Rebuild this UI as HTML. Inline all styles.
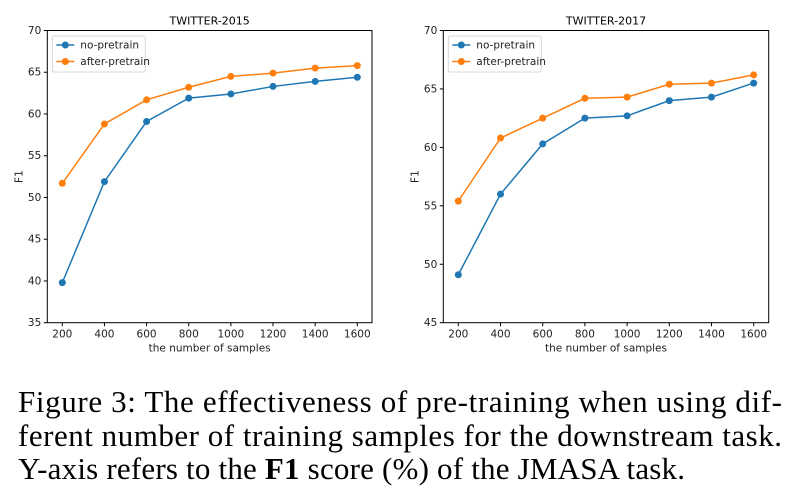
<!DOCTYPE html>
<html><head><meta charset="utf-8"><style>
body{margin:0;background:#fff;width:802px;height:504px;overflow:hidden}
svg{display:block}
.cap{font-family:"Liberation Serif","Times New Roman",serif;font-size:31px;fill:#000}
.sans{font-family:"DejaVu Sans",sans-serif}
</style></head><body>
<svg id="fig" class="sans" width="802" height="504" xmlns="http://www.w3.org/2000/svg">
<g id="c1"></g>
<g id="c2"></g>
<g class="cap">
<text class="cap" x="18" y="412" textLength="764" lengthAdjust="spacing">Figure 3:  The effectiveness of pre-training when using dif-</text>
<text class="cap" x="18" y="446" textLength="764" lengthAdjust="spacing">ferent number of training samples for the downstream task.</text>
<text class="cap" x="18" y="479" textLength="667" lengthAdjust="spacing">Y-axis refers to the <tspan font-weight="bold">F1</tspan> score (%) of the JMASA task.</text>
</g>
</svg>
<script>
const categories=[200,400,600,800,1000,1200,1400,1600];
const noPretrain2015=[39.8,51.9,59.1,61.9,62.4,63.3,63.9,64.4];
const afterPretrain2015=[51.7,58.8,61.7,63.2,64.5,64.9,65.5,65.8];
const noPretrain2017=[49.1,56.0,60.3,62.5,62.7,64.0,64.3,65.5];
const afterPretrain2017=[55.4,60.8,62.5,64.2,64.3,65.4,65.5,66.2];
const yTicks2015=[35,40,45,50,55,60,65,70];
const yTicks2017=[45,50,55,60,65,70];
const NS='http://www.w3.org/2000/svg';
function mk(p,t,a){const e=document.createElementNS(NS,t);for(const k in a)e.setAttribute(k,a[k]);p.appendChild(e);return e;}
function draw(g,title,yt,s1,s2,L,R,X0,X1){
  const T=30.5,B=322.7,ymin=yt[0],ymax=yt[yt.length-1];
  const xs=v=>X0+(v-200)/1400*(X1-X0);
  const ys=v=>B-(v-ymin)/(ymax-ymin)*(B-T);
  const t=mk(g,'text',{x:(L+R)/2,y:T-6,'text-anchor':'middle','font-size':11});t.textContent=title;
  
  
  const fr=mk(g,'rect',{x:L,y:T,width:R-L,height:B-T,fill:'none',stroke:'#000','stroke-width':1});
  
  
  yt.forEach(v=>{const y=ys(v);mk(g,'line',{x1:L-3.5,x2:L,y1:y,y2:y,stroke:'#000'});
    const tx=mk(g,'text',{x:L-6,y:y+3.5,'text-anchor':'end','font-size':10.5,fill:'#222'});tx.textContent=v;
    
    });
  categories.forEach(v=>{const x=xs(v);mk(g,'line',{x1:x,x2:x,y1:B,y2:B+3.5,stroke:'#000'});
    const tx=mk(g,'text',{x:x,y:B+15,'text-anchor':'middle','font-size':10.5,fill:'#222'});tx.textContent=v;
    
    });
  const xl=mk(g,'text',{x:(L+R)/2,y:B+29,'text-anchor':'middle','font-size':10.5,fill:'#222'});xl.textContent='the number of samples';
  
  
  const yl=mk(g,'text',{x:0,y:0,'text-anchor':'middle','font-size':10.5,fill:'#222',transform:`translate(${L-25},${(T+B)/2}) rotate(-90)`});yl.textContent='F1';
  
  
  [[s1,'#1f77b4','no-pretrain'],[s2,'#ff7f0e','after-pretrain']].forEach(([s,c,n])=>{
    const pl=mk(g,'polyline',{points:s.map((v,i)=>xs(categories[i])+','+ys(v)).join(' '),fill:'none',stroke:c,'stroke-width':1.5});
    
    
    s.forEach((v,i)=>{const m=mk(g,'circle',{cx:xs(categories[i]),cy:ys(v),r:3.5,fill:c});
      
      });
  });
  const lg=mk(g,'g',{});
  
  
  mk(lg,'rect',{x:L+5,y:T+5.5,width:93,height:36,fill:'#fff',stroke:'#ccc','stroke-width':0.8,rx:2});
  [['#1f77b4','no-pretrain'],['#ff7f0e','after-pretrain']].forEach(([c,n],i)=>{
    const y=T+14.5+i*16.5;
    const e=mk(lg,'g',{});
    
    
    mk(e,'line',{x1:L+9,x2:L+27,y1:y,y2:y,stroke:c,'stroke-width':1.5});
    mk(e,'circle',{cx:L+18,cy:y,r:3.5,fill:c});
    const tx=mk(e,'text',{x:L+33,y:y+3.5,'font-size':10.5,fill:'#222'});tx.textContent=n;
  });
}
draw(document.getElementById('c1'),'TWITTER-2015',yTicks2015,noPretrain2015,afterPretrain2015,47.3,372,62.3,357.3);
draw(document.getElementById('c2'),'TWITTER-2017',yTicks2017,noPretrain2017,afterPretrain2017,443.3,768.7,458.3,753.7);
</script>
</body></html>
